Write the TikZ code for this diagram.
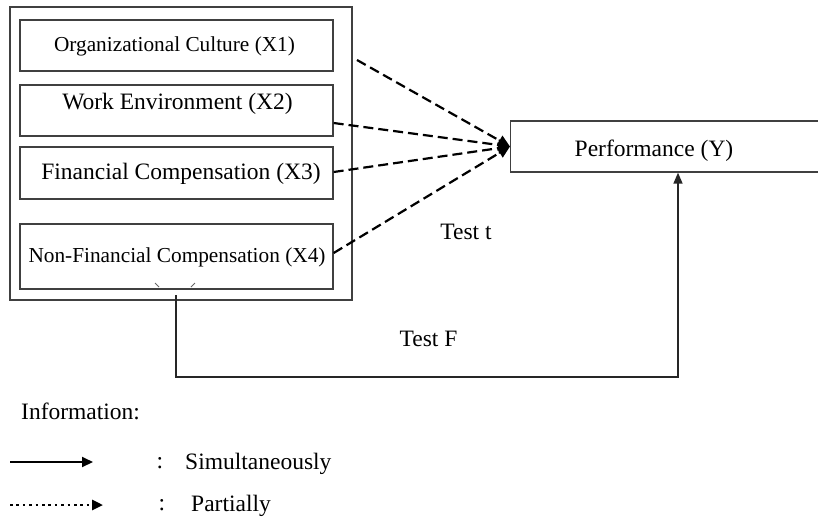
\documentclass[tikz,border=0pt]{standalone}
\usepackage{fontspec}
\setmainfont{Liberation Serif}
\usetikzlibrary{arrows.meta,calc}
\begin{document}
\begin{tikzpicture}[x=1pt,y=-1pt,
  box/.style={draw=black!75, line width=1.3pt, rectangle, inner sep=0pt},
  txt/.style={font=\fontsize{23.5}{28}\selectfont, inner sep=0pt},
  stxt/.style={font=\fontsize{21.3}{26}\selectfont, inner sep=0pt},
  dasharrow/.style={line width=2.2pt, dash pattern=on 10pt off 5pt, -{Triangle[length=12pt,width=11pt]}},
  solidarrow/.style={line width=2pt, -{Triangle[length=11pt,width=10pt]}},
  dotarrow/.style={line width=2.6pt, dash pattern=on 2.6pt off 3.8pt, -{Triangle[length=11pt,width=10pt]}}]
\useasboundingbox (0,0) rectangle (818,519);
% boxes
\node[box, minimum width=342, minimum height=293] (outer) at (181,153.5) {};
\node[box, minimum width=313, minimum height=51] (x1) at (176.5,45.5) {};
\node[box, minimum width=313, minimum height=51] (x2) at (176.5,110.5) {};
\node[box, minimum width=313, minimum height=52] (x3) at (176.5,173) {};
\node[box, minimum width=313, minimum height=65] (x4) at (176.5,256.5) {};
\node[box, minimum width=340, minimum height=51, anchor=west] (perf) at (510,146.5) {};
% texts
\node[stxt] (x1t) at (174.5,46.5) {Organizational Culture (X1)};
\node[txt] (x2t) at (177.5,103.5) {Work Environment (X2)};
\node[txt] (x3t) at (181,174) {Financial Compensation (X3)};
\node[stxt] (x4t) at (177,257.5) {Non-Financial Compensation (X4)};
\node[txt] (perft) at (654,151) {Performance (Y)};
\node[txt] (testt) at (466,231.5) {Test t};
\node[txt] (testf) at (428.5,338.5) {Test F};
% small marks
\draw[black!60, line width=0.8pt] (155,283) -- (159,287);
\draw[black!60, line width=0.8pt] (195,283) -- (191,287);
% partial (dashed) arrows
\coordinate (s1) at (357,60);
\draw[dasharrow] (s1) -- (perf.west);
\draw[dasharrow] ($(x2.east)+(0,12.5)$) -- (perf.west);
\draw[dasharrow] ($(x3.east)+(0,-1)$) -- (perf.west);
\draw[dasharrow] ($(x4.east)+(0,-3.5)$) -- (perf.west);
% simultaneous arrow
\coordinate (fs) at (176,295);
\coordinate (fc) at (678,377);
\draw[black!85, line width=1.5pt, -{Triangle[length=11pt,width=9pt]}] (fs) |- (fc) -- (fc |- perf.south);
% legend
\node[txt, anchor=west] (info) at (21,411.5) {Information:};
\coordinate (l1a) at (10,462);
\coordinate (l1b) at (93,462);
\draw[solidarrow] (l1a) -- (l1b);
\node[txt] (c1) at (160,463) {:};
\node[txt, anchor=west] (simt) at (185,464) {Simultaneously};
\coordinate (l2a) at (10,505);
\coordinate (l2b) at (103,505);
\draw[dotarrow] (l2a) -- (l2b);
\node[txt] (c2) at (162,505) {:};
\node[txt, anchor=west] (part) at (191,505.5) {Partially};
\end{tikzpicture}
\end{document}
